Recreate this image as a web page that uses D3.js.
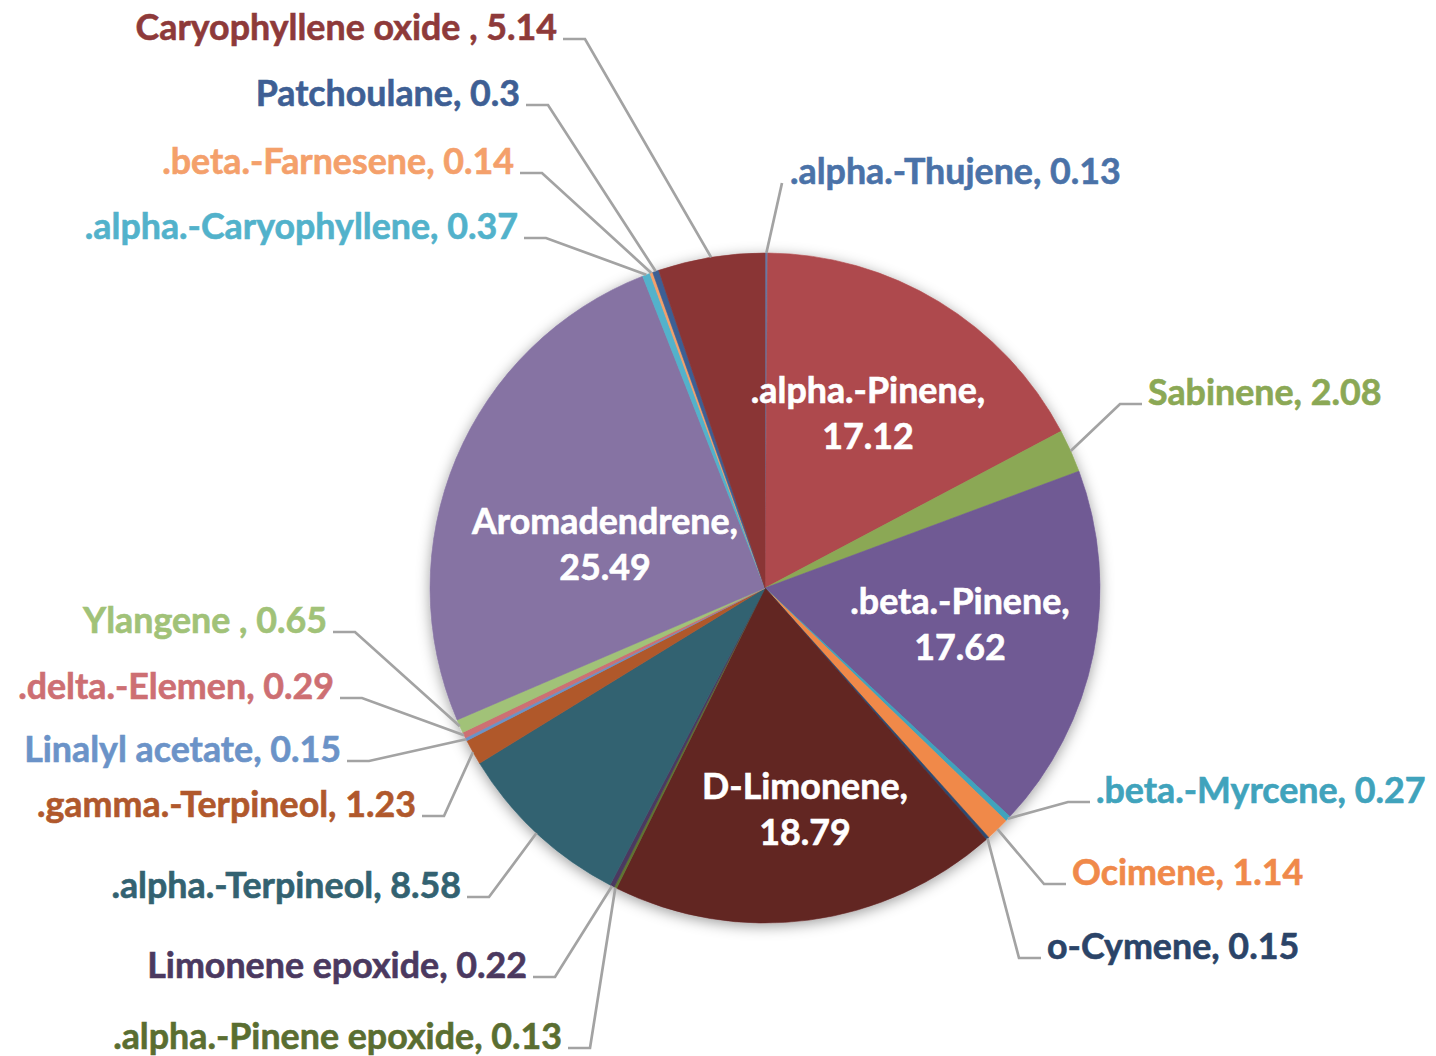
<!DOCTYPE html>
<html>
<head>
<meta charset="utf-8">
<script src="https://cdn.jsdelivr.net/npm/d3@7"></script>
<style>
  html, body { margin: 0; padding: 0; background: #ffffff; }
  svg { display: block; }
  text { font-family: Lato, "Open Sans", sans-serif; font-weight: 700; }
</style>
</head>
<body>
<svg id="chart" width="1436" height="1056"></svg>
<script>
// ---------- data ----------
const categories = [
  ".alpha.-Thujene", ".alpha.-Pinene", "Sabinene", ".beta.-Pinene", ".beta.-Myrcene",
  "Ocimene", "o-Cymene", "D-Limonene", ".alpha.-Pinene epoxide", "Limonene epoxide",
  ".alpha.-Terpineol", ".gamma.-Terpineol", "Linalyl acetate", ".delta.-Elemen", "Ylangene ",
  "Aromadendrene", ".alpha.-Caryophyllene", ".beta.-Farnesene", "Patchoulane", "Caryophyllene oxide "
];
const values = [
  0.13, 17.12, 2.08, 17.62, 0.27,
  1.14, 0.15, 18.79, 0.13, 0.22,
  8.58, 1.23, 0.15, 0.29, 0.65,
  25.49, 0.37, 0.14, 0.3, 5.14
];
const valueLabels = [
  "0.13", "17.12", "2.08", "17.62", "0.27",
  "1.14", "0.15", "18.79", "0.13", "0.22",
  "8.58", "1.23", "0.15", "0.29", "0.65",
  "25.49", "0.37", "0.14", "0.3", "5.14"
];

// ---------- styles ----------
const sliceColors = [
  "#6878a2", "#ae4a4d", "#8ba855", "#705a94", "#40a3bc",
  "#f0894a", "#2d4a70", "#622524", "#5f7431", "#4b3960",
  "#336271", "#b0582c", "#6b93c8", "#cd6f73", "#a1c278",
  "#8673a3", "#52b2cb", "#f4a06b", "#3e5f94", "#8a3535"
];
const textColors = [
  "#4a72a8", "#ffffff", "#8ba855", "#ffffff", "#40a3bc",
  "#f0894a", "#2b4468", "#ffffff", "#5a6e31", "#4b3960",
  "#336271", "#b0582c", "#6b93c8", "#cd6f73", "#a1c278",
  "#ffffff", "#52b2cb", "#f4a06b", "#3e5f94", "#8e3a3a"
];
// label layout: [mode, x, y]; "L" = text right edge at x, "R" = text left edge at x,
// "T" = line straight up, "I" = inside (centre of two-line block)
const labelLayout = [
  ["T", 790, 171], ["I", 868, 413], ["R", 1148, 392], ["I", 960, 624], ["R", 1096, 790],
  ["R", 1072, 872], ["R", 1047, 946], ["I", 805, 809], ["L", 562, 1036], ["L", 527, 965],
  ["L", 461, 885], ["L", 416, 804], ["L", 341, 749], ["L", 334, 686], ["L", 327, 620],
  ["I", 605, 544], ["L", 518, 226], ["L", 514, 161], ["L", 520, 93], ["L", 557, 27]
];

const W = 1436, H = 1056;
const cx = 765, cy = 588, R = 335;
const fontSize = 35.8;

const svg = d3.select("#chart");
const defs = svg.append("defs");
const f = defs.append("filter").attr("id", "shadow")
  .attr("x", "-20%").attr("y", "-20%").attr("width", "140%").attr("height", "140%");
f.append("feDropShadow").attr("dx", 0).attr("dy", 3).attr("stdDeviation", 7)
  .attr("flood-color", "#000").attr("flood-opacity", 0.38);

const data = categories.map((c, i) => ({ name: c, value: values[i], i }));
const pie = d3.pie().value(d => d.value).sort(null).startAngle(0).endAngle(2 * Math.PI);
const arcs = pie(data);
const arc = d3.arc().innerRadius(0).outerRadius(R);

const g = svg.append("g").attr("transform", `translate(${cx},${cy})`);
const pieG = g.append("g").attr("filter", "url(#shadow)");
pieG.selectAll("path").data(arcs).enter().append("path")
  .attr("d", arc)
  .attr("fill", d => sliceColors[d.data.i])
  .attr("stroke", d => sliceColors[d.data.i])
  .attr("stroke-width", 0.6);

// leader lines & labels
const lineG = svg.append("g");
const textG = svg.append("g");
arcs.forEach(a => {
  const i = a.data.i;
  const [mode, lx, ly] = labelLayout[i];
  const mid = (a.startAngle + a.endAngle) / 2;
  const px = cx + R * Math.sin(mid), py = cy - R * Math.cos(mid);
  const label = categories[i] + ", " + valueLabels[i];
  if (mode === "I") {
    const t = textG.append("text")
      .attr("text-anchor", "middle")
      .attr("fill", textColors[i])
      .attr("stroke", textColors[i])
      .attr("stroke-width", 0.6)
      .attr("font-size", fontSize);
    t.append("tspan").attr("x", lx).attr("y", ly - 23).attr("dy", "0.35em").text(categories[i] + ",");
    t.append("tspan").attr("x", lx).attr("y", ly + 23).attr("dy", "0.35em").text(valueLabels[i]);
    return;
  }
  let pts;
  if (mode === "L") {
    const hy = ly + 12;
    pts = [[lx + 6, hy], [lx + 28, hy], [px, py]];
  } else if (mode === "R") {
    const hy = ly + 12;
    pts = [[lx - 6, hy], [lx - 28, hy], [px, py]];
  } else {
    pts = [[lx - 8, ly + 12], [px, py]];
  }
  lineG.append("path")
    .attr("d", d3.line()(pts))
    .attr("fill", "none")
    .attr("stroke", "#a3a3a3")
    .attr("stroke-width", 2.7);
  textG.append("text")
    .attr("x", lx).attr("y", ly)
    .attr("dy", "0.35em")
    .attr("text-anchor", mode === "L" ? "end" : "start")
    .attr("fill", textColors[i])
    .attr("stroke", textColors[i])
    .attr("stroke-width", 0.6)
    .attr("font-size", fontSize)
    .text(label);
});
</script>
</body>
</html>
